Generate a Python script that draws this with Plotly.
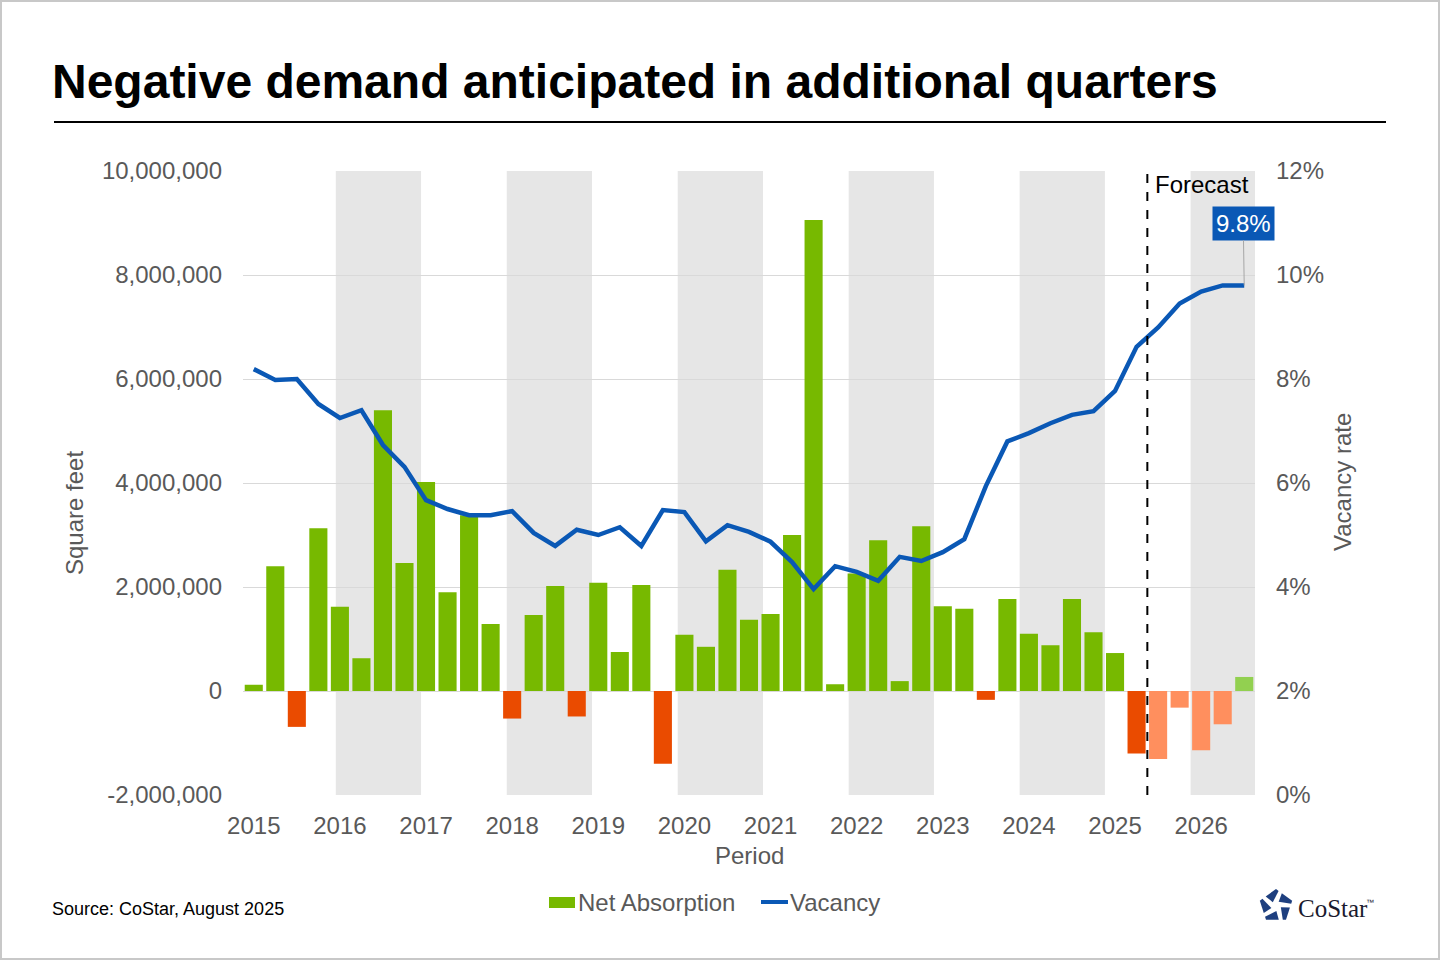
import math
import plotly.graph_objects as go

# quarterly data, 2015 Q1 .. 2026 Q3
years = list(range(2015, 2027))
net_absorption = [
    120000, 2400000, -690000, 3130000,
    1620000, 630000, 5400000, 2460000,
    4020000, 1900000, 3380000, 1290000,
    -530000, 1460000, 2020000, -490000,
    2080000, 750000, 2040000, -1400000,
    1080000, 850000, 2330000, 1370000,
    1480000, 3000000, 9060000, 130000,
    2260000, 2900000, 190000, 3170000,
    1630000, 1580000, -170000, 1770000,
    1100000, 880000, 1770000, 1130000,
    730000, -1200000, -1310000, -320000,
    -1140000, -640000, 270000,
]
vacancy = [
    8.19, 7.98, 8.00, 7.52,
    7.25, 7.40, 6.73, 6.31,
    5.67, 5.50, 5.38, 5.38,
    5.46, 5.04, 4.79, 5.10,
    5.00, 5.15, 4.79, 5.48,
    5.44, 4.88, 5.19, 5.06,
    4.87, 4.48, 3.96, 4.40,
    4.29, 4.12, 4.58, 4.50,
    4.67, 4.92, 5.94, 6.80,
    6.96, 7.15, 7.31, 7.38,
    7.77, 8.62, 8.99, 9.45,
    9.68, 9.80, 9.80,
]
sqft_ticks = [-2000000, 0, 2000000, 4000000, 6000000, 8000000, 10000000]
first_forecast = 42  # 2025 Q3

GREEN = "#77B900"
RED = "#EA4B00"
LIGHT_RED = "#FF8F5E"
LIGHT_GREEN = "#92D050"
BLUE = "#0A58B5"
GREY_TXT = "#595959"
FONT = "Liberation Sans, Arial, sans-serif"

x = list(range(len(net_absorption)))
colors = []
for i, v in enumerate(net_absorption):
    if i < first_forecast:
        colors.append(GREEN if v >= 0 else RED)
    else:
        colors.append(LIGHT_GREEN if v >= 0 else LIGHT_RED)

fig = go.Figure()
fig.add_trace(go.Bar(x=x, y=net_absorption, marker_color=colors, marker_line_width=0,
                     name="Net Absorption", showlegend=False))
fig.add_trace(go.Scatter(x=x, y=vacancy, yaxis="y2", mode="lines", name="Vacancy",
                         line=dict(color=BLUE, width=4.5), showlegend=False))

# plot area in pixels: x 243..1255, y 171..795
L, R, T, B = 243, 1255, 171, 795
W, H = 1440, 960


def px(xp, yp):
    return (xp - L) / (R - L), (B - yp) / (B - T)


shapes = []
# alternating year shading
for yr in range(2016, 2027, 2):
    x0 = 3.81 + 3.97 * (yr - 2016)
    shapes.append(dict(type="rect", xref="x", yref="paper", x0=x0, x1=min(x0 + 3.96, 46.5),
                       y0=0, y1=1, fillcolor="#E6E6E6", line_width=0, layer="below"))
# forecast divider
shapes.append(dict(type="line", xref="x", yref="paper", x0=first_forecast - 0.5,
                   x1=first_forecast - 0.5, y0=0, y1=1,
                   line=dict(color="black", width=2, dash="dash")))
# rule under title
a = px(54, 122)
b = px(1386, 122)
shapes.append(dict(type="line", xref="paper", yref="paper", x0=a[0], y0=a[1], x1=b[0], y1=b[1],
                   line=dict(color="black", width=2)))
# outer border
a = px(1, 1)
b = px(W - 1, H - 1)
shapes.append(dict(type="rect", xref="paper", yref="paper", x0=a[0], y0=a[1], x1=b[0], y1=b[1],
                   line=dict(color="#C8C8C8", width=2)))

# legend (drawn by hand to match the original spacing)
a = px(549, 897)
b = px(575, 908)
shapes.append(dict(type="rect", xref="paper", yref="paper", x0=a[0], y0=a[1], x1=b[0], y1=b[1],
                   fillcolor=GREEN, line_width=0))
a = px(761, 902)
b = px(788, 902)
shapes.append(dict(type="line", xref="paper", yref="paper", x0=a[0], y0=a[1], x1=b[0], y1=b[1],
                   line=dict(color=BLUE, width=4)))

# CoStar logo mark
cx, cy, rad, rin = 1276, 906, 17, 5
pts = [(cx + rad * math.cos(math.radians(90 + 72 * k)), cy - rad * math.sin(math.radians(90 + 72 * k)))
       for k in range(5)]
for k in range(5):
    p0 = pts[k]
    p1 = pts[(k + 1) % 5]
    pm = pts[(k - 1) % 5]
    ax_ = (p0[0] + 0.64 * (p1[0] - p0[0]), p0[1] + 0.64 * (p1[1] - p0[1]))
    bx_ = (pm[0] + 0.84 * (p0[0] - pm[0]), pm[1] + 0.84 * (p0[1] - pm[1]))
    ang = math.radians(90 + 72 * k + 40)
    inn = (cx + rin * math.cos(ang), cy - rin * math.sin(ang))
    poly = [p0, ax_, inn, bx_]
    path = "M " + " L ".join("%.5f,%.5f" % px(*p) for p in poly) + " Z"
    shapes.append(dict(type="path", xref="paper", yref="paper", path=path,
                       fillcolor="#1E3F7F", line_width=0))

annotations = []


def note(text, xp, yp, size, color, xanchor="left", yanchor="middle", textangle=0, **kw):
    p = px(xp, yp)
    annotations.append(dict(text=text, xref="paper", yref="paper", x=p[0], y=p[1],
                            xanchor=xanchor, yanchor=yanchor, showarrow=False, textangle=textangle,
                            font=dict(family=kw.pop("family", FONT), size=size, color=color), **kw))


note("<b>Negative demand anticipated in additional quarters</b>", 50, 81, 48, "black")
note("Square feet", 74, 513, 24, GREY_TXT, xanchor="center", textangle=-90)
note("Vacancy rate", 1342, 482, 24, GREY_TXT, xanchor="center", textangle=-90)
note("Period", 749, 855, 24, GREY_TXT, xanchor="center")
note("Source: CoStar, August 2025", 50, 909, 18, "black")
note("Net Absorption", 576, 902, 24, GREY_TXT)
note("Vacancy", 788, 902, 24, GREY_TXT)
note("CoStar", 1296, 908, 25, "#1A1A2E", family="Liberation Serif, Times New Roman, serif")
note("™", 1364, 902, 8, "#1A1A2E")

annotations.append(dict(text="Forecast", xref="x", yref="paper", x=first_forecast - 0.5, y=px(0, 184)[1],
                        xanchor="left", yanchor="middle", xshift=6, showarrow=False,
                        font=dict(family=FONT, size=24, color="black")))
annotations.append(dict(text="9.8%", xref="x", yref="y2", x=x[-1], y=vacancy[-1],
                        showarrow=True, arrowhead=0, arrowwidth=1, arrowcolor="#A6A6A6",
                        ax=-1, ay=-62, bgcolor=BLUE, borderpad=3,
                        font=dict(family=FONT, size=24, color="white")))

fig.update_layout(
    width=W, height=H,
    margin=dict(l=L, r=W - R, t=T, b=H - B),
    paper_bgcolor="white", plot_bgcolor="white",
    font=dict(family=FONT, size=24, color=GREY_TXT),
    bargap=0.16,
    showlegend=False,
    xaxis=dict(range=[-0.5, 46.5], tickvals=[4 * i for i in range(len(years))],
               ticktext=[str(yy) for yy in years], showgrid=False, zeroline=False,
               ticks="", tickfont=dict(size=24, color=GREY_TXT), ticklabelstandoff=14),
    yaxis=dict(range=[-2000000, 10000000], tickvals=sqft_ticks,
               ticktext=[f"{v:,}" for v in sqft_ticks], showgrid=True,
               gridcolor="#D9D9D9", gridwidth=1, zeroline=False, ticks="",
               tickfont=dict(size=24, color=GREY_TXT), ticklabelstandoff=20),
    yaxis2=dict(range=[0, 12], dtick=2, ticksuffix="%", overlaying="y", side="right",
                showgrid=False, zeroline=False, ticks="",
                tickfont=dict(size=24, color=GREY_TXT), ticklabelstandoff=20),
    shapes=shapes,
    annotations=annotations,
)

fig.write_html("out.html", config={"displayModeBar": False},
               post_script="document.body.style.margin='0';")
